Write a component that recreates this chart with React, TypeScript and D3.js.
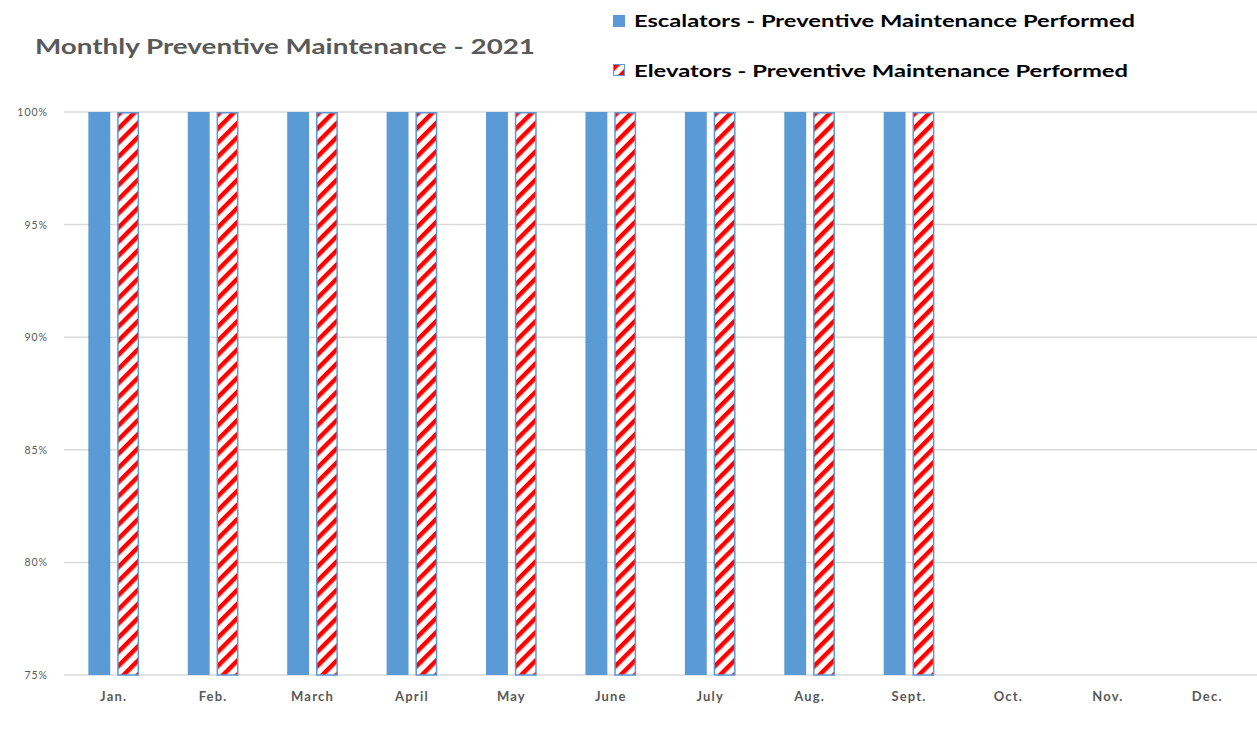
import React from 'react';
import * as d3 from 'd3';

// chart data
const months = ['Jan.', 'Feb.', 'March', 'April', 'May', 'June', 'July', 'Aug.', 'Sept.', 'Oct.', 'Nov.', 'Dec.'];
const escalators = [100, 100, 100, 100, 100, 100, 100, 100, 100, null, null, null];
const elevators = [100, 100, 100, 100, 100, 100, 100, 100, 100, null, null, null];
const yTicks = [75, 80, 85, 90, 95, 100];
const seriesNames = ['Escalators - Preventive Maintenance Performed', 'Elevators - Preventive Maintenance Performed'];

const W = 1257;
const H = 749;
const FONT = 'Lato, "Open Sans", sans-serif';

const App = () => {
  const left = 64;
  const right = 1257;
  const top = 112;
  const bottom = 675;

  const x = d3.scaleBand<string>().domain(months).range([left, right]).paddingInner(0.49).paddingOuter(0.245);
  const inner = d3.scaleBand<string>().domain(['esc', 'elev']).range([0, x.bandwidth()]).paddingInner(0.24);
  const y = d3.scaleLinear().domain([75, 100]).range([bottom, top]);

  return (
    <svg width={W} height={H} style={{ position: 'absolute', left: 0, top: 0, background: '#fff' }}>
      <defs>
        <pattern id="stripes" width="10" height="10" patternUnits="userSpaceOnUse" patternTransform="rotate(45)">
          <rect width="10" height="10" fill="#fff" />
          <rect x="0" y="0" width="4.5" height="10" fill="#ff0000" />
        </pattern>
      </defs>

      {/* title */}
      <text x={35} y={54} fontFamily={FONT} fontWeight="bold" fontSize={20} fill="#595959"
        textLength={500} lengthAdjust="spacingAndGlyphs">
        Monthly Preventive Maintenance - 2021
      </text>

      {/* legend */}
      <rect x={613} y={15} width={12} height={12} fill="#5b9bd5" />
      <text x={634} y={27} fontFamily={FONT} fontWeight="bold" fontSize={17} fill="#000"
        textLength={501} lengthAdjust="spacingAndGlyphs">{seriesNames[0]}</text>
      <rect x={613.5} y={64.5} width={11} height={11} fill="url(#stripes)" stroke="#5b9bd5" strokeWidth={1} />
      <text x={634} y={77} fontFamily={FONT} fontWeight="bold" fontSize={17} fill="#000"
        textLength={494} lengthAdjust="spacingAndGlyphs">{seriesNames[1]}</text>

      {/* gridlines + y labels */}
      {yTicks.map(t => (
        <g key={t}>
          <line x1={left} x2={right} y1={y(t)} y2={y(t)} stroke="#d9d9d9" strokeWidth={1.5} />
          <text x={48} y={y(t) + 4} textAnchor="end" fontFamily={FONT} fontSize={10.5} fill="#595959"
            letterSpacing={1}>{t}%</text>
        </g>
      ))}

      {/* bars */}
      {months.map((m, i) => (
        <g key={m} transform={`translate(${x(m)},0)`}>
          {escalators[i] != null && (
            <rect x={inner('esc')} y={y(escalators[i] as number)} width={inner.bandwidth()}
              height={bottom - y(escalators[i] as number)} fill="#5b9bd5" />
          )}
          {elevators[i] != null && (
            <rect x={(inner('elev') as number) + 0.75} y={y(elevators[i] as number) + 0.75} width={inner.bandwidth() - 1.5}
              height={bottom - y(elevators[i] as number) - 0.75} fill="url(#stripes)" stroke="#5b9bd5" strokeWidth={1.5} />
          )}
        </g>
      ))}

      {/* x labels */}
      {months.map(m => (
        <text key={m} x={(x(m) as number) + x.bandwidth() / 2} y={701} textAnchor="middle"
          fontFamily={FONT} fontWeight="bold" fontSize={13} fill="#595959" letterSpacing={1.2}>{m}</text>
      ))}
    </svg>
  );
};

export default App;
